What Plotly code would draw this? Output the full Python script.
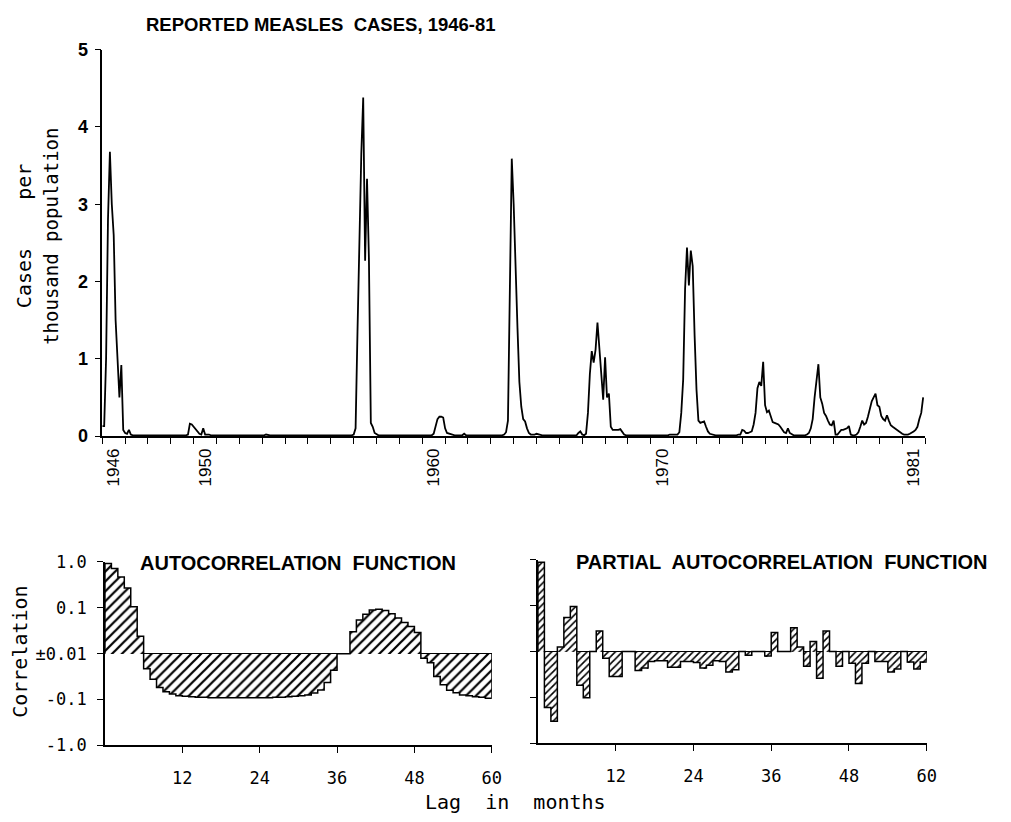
import math
import plotly.graph_objects as go

# ---------------- Data ----------------
# Monthly reported measles cases per thousand population, Jan 1946 .. Dec 1981
years = list(range(1946, 1982))
cases = [
    # 1946
    0.13, 0.13, 1.00, 2.80, 3.68, 3.00, 2.60, 1.50, 1.00, 0.50, 0.92, 0.08,
    # 1947
    0.04, 0.03, 0.08, 0.02, 0.01, 0.01, 0.01, 0.01, 0.01, 0.01, 0.01, 0.01,
    # 1948
    0.01, 0.01, 0.01, 0.01, 0.01, 0.01, 0.01, 0.01, 0.01, 0.01, 0.01, 0.01,
    # 1949
    0.01, 0.01, 0.01, 0.01, 0.01, 0.01, 0.01, 0.01, 0.01, 0.02, 0.16, 0.15,
    # 1950
    0.12, 0.08, 0.05, 0.03, 0.02, 0.10, 0.02, 0.02, 0.02, 0.01, 0.01, 0.01,
    # 1951
    0.01, 0.01, 0.01, 0.01, 0.01, 0.01, 0.01, 0.01, 0.01, 0.01, 0.01, 0.01,
    # 1952
    0.01, 0.01, 0.01, 0.01, 0.01, 0.01, 0.01, 0.01, 0.01, 0.01, 0.01, 0.01,
    # 1953
    0.01, 0.01, 0.02, 0.01, 0.01, 0.01, 0.01, 0.01, 0.01, 0.01, 0.01, 0.01,
    # 1954
    0.01, 0.01, 0.01, 0.01, 0.01, 0.01, 0.01, 0.01, 0.01, 0.01, 0.01, 0.01,
    # 1955
    0.01, 0.01, 0.01, 0.01, 0.01, 0.01, 0.01, 0.01, 0.01, 0.01, 0.01, 0.01,
    # 1956
    0.01, 0.01, 0.01, 0.01, 0.01, 0.01, 0.01, 0.01, 0.01, 0.01, 0.01, 0.01,
    # 1957
    0.02, 0.10, 1.35, 2.60, 3.65, 4.38, 2.27, 3.33, 2.30, 0.17, 0.12, 0.04,
    # 1958
    0.02, 0.01, 0.01, 0.01, 0.01, 0.01, 0.01, 0.01, 0.01, 0.01, 0.01, 0.01,
    # 1959
    0.01, 0.01, 0.01, 0.01, 0.01, 0.01, 0.01, 0.01, 0.01, 0.01, 0.01, 0.01,
    # 1960
    0.01, 0.01, 0.01, 0.01, 0.01, 0.01, 0.03, 0.14, 0.22, 0.25, 0.25, 0.24,
    # 1961
    0.10, 0.04, 0.03, 0.02, 0.01, 0.01, 0.01, 0.01, 0.01, 0.01, 0.03, 0.01,
    # 1962
    0.01, 0.01, 0.01, 0.01, 0.01, 0.01, 0.01, 0.01, 0.01, 0.01, 0.01, 0.01,
    # 1963
    0.01, 0.01, 0.01, 0.01, 0.01, 0.01, 0.01, 0.02, 0.05, 0.20, 2.30, 3.59,
    # 1964
    3.00, 2.10, 1.40, 0.70, 0.38, 0.22, 0.19, 0.10, 0.04, 0.02, 0.02, 0.02,
    # 1965
    0.03, 0.02, 0.01, 0.01, 0.01, 0.01, 0.01, 0.01, 0.01, 0.01, 0.01, 0.01,
    # 1966
    0.01, 0.01, 0.01, 0.01, 0.01, 0.01, 0.01, 0.01, 0.01, 0.01, 0.04, 0.06,
    # 1967
    0.02, 0.01, 0.03, 0.30, 0.80, 1.10, 0.95, 1.12, 1.47, 1.15, 0.80, 0.47,
    # 1968
    1.02, 0.50, 0.55, 0.12, 0.08, 0.08, 0.08, 0.08, 0.09, 0.05, 0.02, 0.01,
    # 1969
    0.01, 0.01, 0.01, 0.01, 0.01, 0.01, 0.01, 0.01, 0.01, 0.01, 0.01, 0.01,
    # 1970
    0.01, 0.01, 0.01, 0.01, 0.01, 0.01, 0.01, 0.01, 0.01, 0.01, 0.02, 0.02,
    # 1971
    0.02, 0.02, 0.02, 0.05, 0.30, 0.73, 1.90, 2.44, 1.95, 2.40, 2.20, 1.30,
    # 1972
    0.60, 0.20, 0.17, 0.18, 0.19, 0.12, 0.06, 0.03, 0.02, 0.01, 0.01, 0.01,
    # 1973
    0.01, 0.01, 0.01, 0.01, 0.01, 0.01, 0.01, 0.01, 0.01, 0.01, 0.02, 0.02,
    # 1974
    0.08, 0.07, 0.04, 0.04, 0.05, 0.06, 0.15, 0.30, 0.62, 0.70, 0.65, 0.96,
    # 1975
    0.40, 0.31, 0.33, 0.25, 0.18, 0.17, 0.16, 0.15, 0.12, 0.08, 0.05, 0.04,
    # 1976
    0.10, 0.04, 0.02, 0.01, 0.01, 0.01, 0.01, 0.01, 0.01, 0.01, 0.02, 0.04,
    # 1977
    0.10, 0.22, 0.50, 0.75, 0.93, 0.50, 0.42, 0.30, 0.26, 0.20, 0.15, 0.14,
    # 1978
    0.20, 0.02, 0.02, 0.05, 0.08, 0.08, 0.09, 0.10, 0.13, 0.02, 0.01, 0.01,
    # 1979
    0.02, 0.05, 0.12, 0.20, 0.15, 0.17, 0.25, 0.35, 0.45, 0.50, 0.55, 0.40,
    # 1980
    0.38, 0.26, 0.22, 0.20, 0.27, 0.20, 0.14, 0.12, 0.10, 0.08, 0.07, 0.05,
    # 1981
    0.03, 0.02, 0.02, 0.02, 0.03, 0.04, 0.06, 0.08, 0.12, 0.22, 0.30, 0.50,
]
year_label_years = [1946, 1950, 1960, 1970, 1981]
cases_ticks = [0, 1, 2, 3, 4, 5]

# Autocorrelation and partial autocorrelation, lags 1..60
lags = list(range(1, 61))
acf = [
    0.93, 0.72, 0.47, 0.27, 0.105, 0.024,
    -0.0214, -0.0363, -0.055, -0.0676, -0.0759, -0.0832,
    -0.0851, -0.0871, -0.0891, -0.0891, -0.0912, -0.0912,
    -0.0912, -0.0912, -0.0912, -0.0912, -0.0912, -0.0912,
    -0.0912, -0.0912, -0.0891, -0.0891, -0.0871, -0.0851,
    -0.0832, -0.0794, -0.0724, -0.0617, -0.0427, -0.0229,
    0.0, 0.0, 0.030, 0.054, 0.072, 0.089,
    0.093, 0.087, 0.074, 0.060, 0.048, 0.039,
    0.029, -0.0126, -0.0158, -0.0316, -0.0479, -0.0631,
    -0.0708, -0.0794, -0.0832, -0.0871, -0.0891, -0.0933,
]
pacf = [
    0.87, -0.166, -0.33, 0.0126, 0.055, 0.095,
    -0.054, -0.102, 0.0, 0.028, -0.014, -0.035,
    -0.035, 0.0, 0.0, -0.026, -0.023, -0.0166,
    -0.0158, -0.0158, -0.022, -0.022, -0.0166, -0.0166,
    -0.0174, -0.023, -0.020, -0.0158, -0.0166, -0.028,
    -0.025, 0.0, -0.012, 0.0, 0.0, -0.0126,
    0.026, 0.0, 0.0, 0.033, 0.0126, -0.021,
    0.0166, -0.038, 0.028, 0.0, -0.021, 0.0,
    -0.018, -0.050, -0.018, 0.0, -0.0166, -0.0166,
    -0.028, -0.024, 0.0, -0.017, -0.024, -0.017,
]
corr_tick_values = [1.0, 0.1, 0.01, -0.1, -1.0]
corr_tick_labels = ["1.0", "0.1", "\u00b10.01", "-0.1", "-1.0"]
lag_ticks = [12, 24, 36, 48, 60]


# signed-log scale used by the correlation panels (|r| < 0.01 sits on the zero line)
def to_scale(r):
    if abs(r) < 0.01:
        return 0.0
    return math.copysign(math.log10(abs(r)) + 2.0, r)


W, H = 1011, 822
MONO = "DejaVu Sans Mono"
SANS = "Liberation Sans"


def px(x):
    return x / W


def py(y):
    return 1 - y / H


fig = go.Figure()

# ---- top panel: time series ----
fig.add_trace(go.Scatter(
    x=[years[0] + i / 12 for i in range(len(cases))], y=cases,
    mode="lines", line=dict(color="black", width=1.8),
    xaxis="x", yaxis="y", showlegend=False, hoverinfo="skip"))


def add_corr_panel(vals, xa, ya, hatch_size):
    t = [to_scale(v) for v in vals]
    fig.add_trace(go.Bar(
        x=[k - 0.5 for k in lags], y=t, width=1,
        marker=dict(color="white", line=dict(width=0),
                    pattern=dict(shape="/", fgcolor="black", bgcolor="white",
                                 size=hatch_size, solidity=0.32, fgopacity=1)),
        xaxis=xa, yaxis=ya, showlegend=False, hoverinfo="skip"))
    xs = [0] + [k - 1 for k in lags] + [lags[-1], lags[-1]]
    ys = [0] + t + [t[-1], 0]
    fig.add_trace(go.Scatter(
        x=xs, y=ys, mode="lines", line=dict(color="black", width=1.5, shape="hv"),
        xaxis=xa, yaxis=ya, showlegend=False, hoverinfo="skip"))


add_corr_panel(acf, "x2", "y2", 7)
add_corr_panel(pacf, "x3", "y3", 5)

axis_common = dict(showline=True, linecolor="black", linewidth=1.5, showgrid=False,
                   zeroline=False, ticks="outside", ticklen=6, tickwidth=1.3,
                   tickcolor="black")

corr_t = [to_scale(v) for v in corr_tick_values]

fig.update_layout(
    width=W, height=H, margin=dict(l=0, r=0, t=0, b=0),
    paper_bgcolor="white", plot_bgcolor="white", bargap=0, showlegend=False,
    xaxis=dict(axis_common, domain=[px(103.3), px(934.3)], range=[1946, 1982],
               ticks="", tickvals=[y + 0.5 for y in year_label_years],
               ticktext=[str(y) for y in year_label_years], tickangle=-90,
               tickfont=dict(family=SANS, size=17, color="black"),
               ticklabelstandoff=4,
               minor=dict(tickvals=years + [1982], ticks="outside", ticklen=6,
                          tickwidth=1.2, tickcolor="black", showgrid=False),
               anchor="y"),
    yaxis=dict(axis_common, domain=[py(436.7), py(40.7)], range=[0, 5],
               tickvals=cases_ticks,
               ticktext=["<b>%d</b>" % v for v in cases_ticks],
               tickfont=dict(family=SANS, size=18, color="black"),
               ticklabelstandoff=3, anchor="x"),
    xaxis2=dict(axis_common, domain=[px(106), px(496.7)], range=[0, 60],
                tickvals=lag_ticks, ticktext=[str(v) for v in lag_ticks],
                tickfont=dict(family=MONO, size=17, color="black"),
                ticklabelstandoff=10, anchor="y2"),
    yaxis2=dict(axis_common, domain=[py(753.7), py(565.7)], range=[-2, 2],
                tickvals=corr_t, ticktext=corr_tick_labels,
                tickfont=dict(family=MONO, size=17, color="black"),
                ticklabelstandoff=7, zeroline=True, zerolinecolor="black",
                zerolinewidth=1.4, anchor="x2"),
    xaxis3=dict(axis_common, domain=[px(543.3), px(936)], range=[0, 60],
                tickvals=lag_ticks, ticktext=[str(v) for v in lag_ticks],
                tickfont=dict(family=MONO, size=17, color="black"),
                ticklabelstandoff=10, anchor="y3"),
    yaxis3=dict(axis_common, domain=[py(751.7), py(563.3)], range=[-2, 2],
                tickvals=corr_t, showticklabels=False,
                zeroline=True, zerolinecolor="black", zerolinewidth=1.4,
                anchor="x3"),
)

NB = "\u00a0"
annots = [
    dict(text="<b>REPORTED MEASLES" + NB + " CASES, 1946-81</b>", x=324, y=15,
         font=dict(family=SANS, size=18.5, color="black")),
    dict(text="<b>AUTOCORRELATION" + NB + " FUNCTION</b>", x=301, y=567,
         font=dict(family=SANS, size=20, color="black")),
    dict(text="<b>PARTIAL" + NB + " AUTOCORRELATION" + NB + " FUNCTION</b>", x=789, y=566,
         font=dict(family=SANS, size=20, color="black")),
    dict(text="Cases" + NB * 4 + "per", x=25, y=231, textangle=-90,
         font=dict(family=MONO, size=20, color="black")),
    dict(text="thousand" + NB + "population", x=52, y=232, textangle=-90,
         font=dict(family=MONO, size=19, color="black")),
    dict(text="Correlation", x=20, y=658, textangle=-90,
         font=dict(family=MONO, size=20, color="black")),
    dict(text="Lag" + NB * 2 + "in" + NB * 2 + "months", x=521, y=812,
         font=dict(family=MONO, size=20, color="black")),
]
for a in annots:
    fig.add_annotation(text=a["text"], x=px(a["x"]), y=py(a["y"]), xref="paper",
                       yref="paper", xanchor="center", yanchor="middle",
                       showarrow=False, textangle=a.get("textangle", 0),
                       font=a["font"])

fig.write_html("out.html")
